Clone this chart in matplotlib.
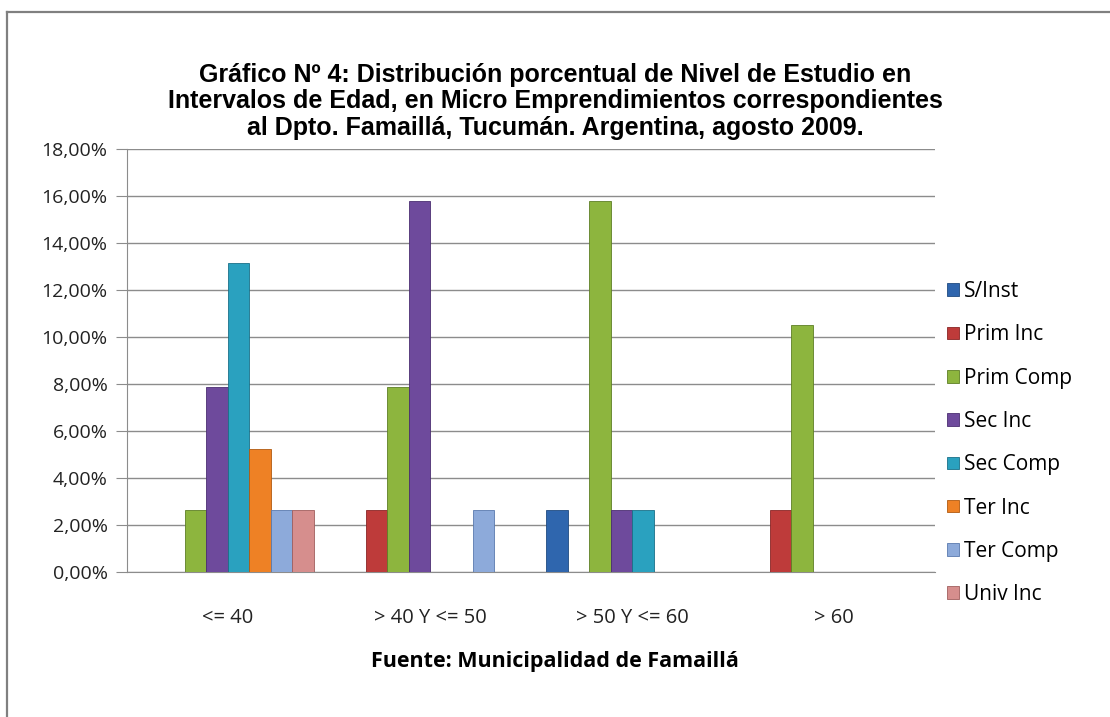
import numpy as np
import matplotlib.pyplot as plt
from matplotlib.ticker import FuncFormatter
from matplotlib.lines import Line2D

grupos = ['<= 40', '> 40 Y <= 50', '> 50 Y <= 60', '> 60']
series = ['S/Inst', 'Prim Inc', 'Prim Comp', 'Sec Inc', 'Sec Comp', 'Ter Inc', 'Ter Comp', 'Univ Inc']

s_inst = [0, 0, 2.63, 0]
prim_inc = [0, 2.63, 0, 2.63]
prim_comp = [2.63, 7.89, 15.79, 10.53]
sec_inc = [7.89, 15.79, 2.63, 0]
sec_comp = [13.16, 0, 2.63, 0]
ter_inc = [5.26, 0, 0, 0]
ter_comp = [2.63, 2.63, 0, 0]
univ_inc = [2.63, 0, 0, 0]

valores = [s_inst, prim_inc, prim_comp, sec_inc, sec_comp, ter_inc, ter_comp, univ_inc]
colores = ['#2F66AE', '#BE3B3A', '#8DB53E', '#6E4A9C', '#2AA1BF', '#EE8125', '#8DAADA', '#D68E8D']
bordes = ['#1F4A80', '#8A2525', '#5E7F25', '#4B2E72', '#1A7088', '#B05A10', '#5A7AAE', '#A05E5D']

fig = plt.figure(figsize=(11.1, 7.17), dpi=100)
ax = fig.add_axes([0.1144, 0.2022, 0.728, 0.5893])

x = np.arange(len(grupos))
w = 0.1064
for i, (nom, v) in enumerate(zip(series, valores)):
    ax.bar(x + (i - 3.5) * w, v, width=w, color=colores[i], edgecolor=bordes[i],
           linewidth=0.6, label=nom, zorder=3)

ax.set_xlim(-0.5, 3.5)
ax.set_ylim(0, 18)
ax.set_yticks(np.arange(0, 19, 2))
ax.yaxis.set_major_formatter(FuncFormatter(lambda v, p: f'{v:.2f}%'.replace('.', ',')))
ax.set_xticks(x)
ax.set_xticklabels(grupos)
ax.grid(axis='y', color='#8C8C8C', linewidth=1, zorder=0)
for s in ['top', 'right']:
    ax.spines[s].set_visible(False)
ax.spines['left'].set_color('#8C8C8C')
ax.spines['bottom'].set_color('#8C8C8C')
ax.tick_params(axis='y', length=8, color='#8C8C8C', labelsize=14, pad=6, labelcolor='#222222')
ax.tick_params(axis='x', length=0, labelsize=14.5, pad=26, labelcolor='#222222')
for t in ax.get_xticklabels() + ax.get_yticklabels():
    t.set_family('Open Sans')

leg = ax.legend(loc='upper left', bbox_to_anchor=(0.992, 0.733), frameon=False,
                prop={'family': 'Open Sans', 'size': 15}, handlelength=0.55, handleheight=0.55,
                handletextpad=0.25, labelspacing=1.07)

fig.text(0.5, 0.912, 'Gráfico Nº 4: Distribución porcentual de Nivel de Estudio en\n'
         'Intervalos de Edad, en Micro Emprendimientos correspondientes\n'
         'al Dpto. Famaillá, Tucumán. Argentina, agosto 2009.',
         ha='center', va='top', fontsize=18, fontweight='bold', family='Liberation Sans',
         linespacing=1.12)
fig.text(0.5, 0.077, 'Fuente: Municipalidad de Famaillá', ha='center', va='center',
         fontsize=15.5, fontweight='bold', family='Open Sans')

# marco del gráfico
fig.add_artist(Line2D([7 / 1110, 7 / 1110], [0, 1 - 11.5 / 717], color='#808080', linewidth=1.6))
fig.add_artist(Line2D([7 / 1110, 1], [1 - 11.5 / 717, 1 - 11.5 / 717], color='#808080', linewidth=1.6))

fig.savefig('out.png', dpi=100)
